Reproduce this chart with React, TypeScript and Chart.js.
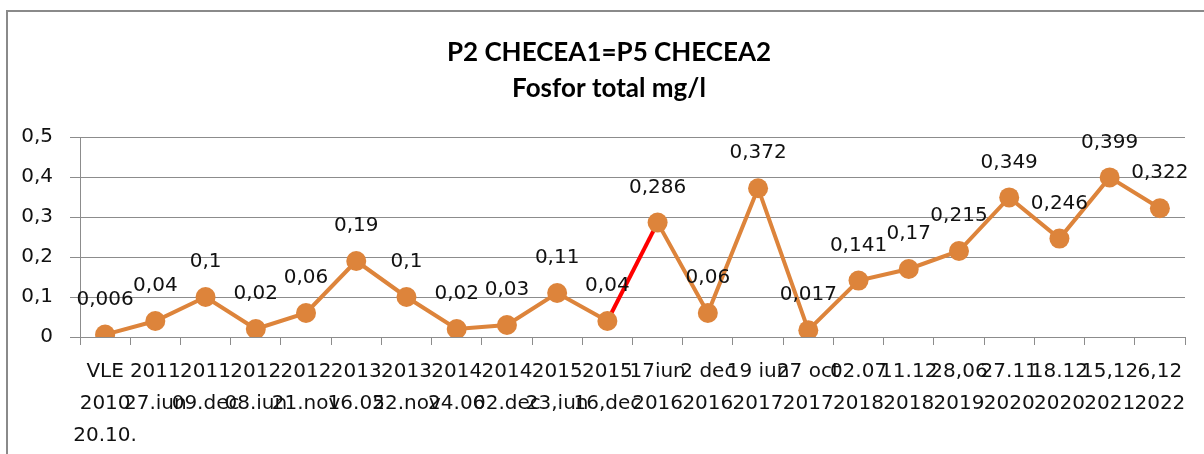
import React, { useEffect, useRef } from 'react';
import { Chart, registerables } from 'chart.js';

Chart.register(...registerables);

const categories: (string | string[])[] = [
  ['VLE', '2010', '20.10.'],
  ['2011', '27.iun'],
  ['2011', '09.dec'],
  ['2012', '08.iun'],
  ['2012', '21.nov'],
  ['2013', '16.05'],
  ['2013', '22.nov'],
  ['2014', '24.06'],
  ['2014', '02.dec'],
  ['2015', '23,iun'],
  ['2015', '16,dec'],
  ['17iun', '2016'],
  ['2 dec', '2016'],
  ['19 iun', '2017'],
  ['27 oct', '2017'],
  ['02.07', '2018'],
  ['11.12', '2018'],
  ['28,06', '2019'],
  ['27.11', '2020'],
  ['18.12', '2020'],
  ['15,12', '2021'],
  ['6,12', '2022'],
];

const fosforValues = [
  0.006, 0.04, 0.1, 0.02, 0.06, 0.19, 0.1, 0.02, 0.03, 0.11, 0.04,
  0.286, 0.06, 0.372, 0.017, 0.141, 0.17, 0.215, 0.349, 0.246, 0.399, 0.322,
];

const yTickValues = [0, 0.1, 0.2, 0.3, 0.4, 0.5];
const titleLines = ['P2 CHECEA1=P5 CHECEA2', 'Fosfor total mg/l'];
const highlightSegmentStart = 10;

const ORANGE = 'rgb(221,132,59)';
const RED = 'rgb(255,0,0)';
const GRID = '#8c8c8c';
const FONT = '"DejaVu Sans", sans-serif';
const TITLE_FONT = '"Lato", "DejaVu Sans", sans-serif';

const fmt = (v: number) => String(+v.toFixed(3)).replace('.', ',');

const titlePlugin = {
  id: 'offsetTitle',
  afterDraw(chart: any) {
    const ctx = chart.ctx;
    ctx.save();
    ctx.font = `bold 26px ${TITLE_FONT}`;
    ctx.fillStyle = '#000';
    ctx.textAlign = 'center';
    ctx.textBaseline = 'middle';
    titleLines.forEach((line, i) => {
      ctx.fillText(line, 609, 53 + i * 36);
    });
    ctx.restore();
  },
};

const dataLabelPlugin = {
  id: 'pointValueLabels',
  afterDatasetsDraw(chart: any) {
    const ctx = chart.ctx;
    const meta = chart.getDatasetMeta(0);
    ctx.save();
    ctx.font = `20px ${FONT}`;
    ctx.fillStyle = '#111';
    ctx.textAlign = 'center';
    ctx.textBaseline = 'middle';
    meta.data.forEach((pt: any, i: number) => {
      ctx.fillText(fmt(fosforValues[i]), pt.x, pt.y - 35);
    });
    ctx.restore();
  },
};

export default function App() {
  const ref = useRef<HTMLCanvasElement | null>(null);

  useEffect(() => {
    if (!ref.current) return;
    const chart = new Chart(ref.current, {
      type: 'line',
      data: {
        labels: categories,
        datasets: [
          {
            data: fosforValues,
            borderColor: ORANGE,
            backgroundColor: ORANGE,
            borderWidth: 4,
            pointRadius: 10,
            pointBackgroundColor: ORANGE,
            pointBorderColor: ORANGE,
            pointBorderWidth: 0,
            tension: 0,
            segment: {
              borderColor: (c: any) => (c.p0DataIndex === highlightSegmentStart ? RED : ORANGE),
            },
          },
        ],
      },
      options: {
        responsive: false,
        animation: false,
        layout: { padding: { left: 0, right: 19, top: 137, bottom: 0 } },
        plugins: {
          legend: { display: false },
          tooltip: { enabled: false },
          title: { display: false },
        },
        scales: {
          x: {
            offset: true,
            grid: { offset: true, drawOnChartArea: false, drawTicks: true, tickLength: 8, color: GRID },
            border: { display: true, color: GRID },
            ticks: {
              autoSkip: false,
              maxRotation: 0,
              minRotation: 0,
              padding: 11,
              color: '#111',
              font: { family: FONT, size: 20, lineHeight: '32px' },
            },
            afterFit: (s: any) => {
              s.height = 117;
            },
          },
          y: {
            min: 0,
            max: 0.5,
            grid: { color: GRID, tickLength: 10 },
            border: { display: true, color: GRID },
            ticks: {
              padding: 17,
              color: '#111',
              font: { family: FONT, size: 20 },
              callback: (v: any) => fmt(Number(v)),
            },
            afterBuildTicks: (s: any) => {
              s.ticks = yTickValues.map((value) => ({ value }));
            },
            afterFit: (s: any) => {
              s.width = 80;
            },
          },
        },
      },
      plugins: [dataLabelPlugin, titlePlugin],
    });
    return () => chart.destroy();
  }, []);

  return (
    <div style={{ position: 'absolute', left: 0, top: 0, width: 1204, height: 454, background: '#fff', overflow: 'hidden' }}>
      <div
        style={{
          position: 'absolute',
          left: 6,
          top: 10,
          width: 1198,
          height: 444,
          boxSizing: 'border-box',
          borderTop: '2px solid #8a8a8a',
          borderLeft: '2px solid #8a8a8a',
        }}
      />
      <canvas ref={ref} width={1204} height={454} style={{ position: 'absolute', left: 0, top: 0, width: 1204, height: 454 }} />
    </div>
  );
}
